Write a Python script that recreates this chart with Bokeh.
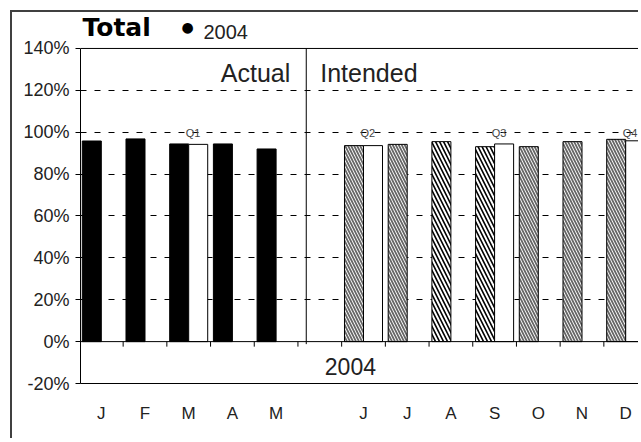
from bokeh.plotting import figure
from bokeh.models import (Range1d, FixedTicker, PrintfTickFormatter, Span, Label)
from bokeh.embed import file_html
from bokeh.resources import INLINE

# ---------------- data ----------------
month_names = ["Jan", "Feb", "Mar", "Apr", "May", "Jun",
               "Jul", "Aug", "Sep", "Oct", "Nov", "Dec"]
month_letters = ["J", "F", "M", "A", "M", "J", "J", "A", "S", "O", "N", "D"]

actual_months = ["Jan", "Feb", "Mar", "Apr", "May"]
actual_values = [95.8, 96.8, 94.4, 94.4, 92.0]

intended_months = ["Jun", "Jul", "Aug", "Sep", "Oct", "Nov", "Dec"]
intended_values = [93.6, 94.2, 95.5, 93.1, 93.1, 95.5, 96.6]
intended_dark_months = ["Aug", "Sep"]

quarter_labels = ["Q1", "Q2", "Q3", "Q4"]
quarter_months = ["Mar", "Jun", "Sep", "Dec"]
quarter_values = [94.2, 93.6, 94.4, 95.9]

y_ticks = [-20, 0, 20, 40, 60, 80, 100, 120, 140]
title_text = "Total"
year_text = "2004"
section_labels = ["Actual", "Intended"]

# ---------------- layout ----------------
W, H = 628, 428
ML, MB = 68, 57
SLOT_PX = 43.7
PX_PER_PCT = 2.094
X0 = -0.476
X1 = X0 + (W - ML) / SLOT_PX
Y0, YTOP = -20, 140
Y1 = Y0 + (H - MB) / PX_PER_PCT
BW = 0.435
SANS = "Liberation Sans"


def slot(m):
    i = month_names.index(m)
    return i if m in actual_months else i + 1   # one empty slot between the two sections


divider_x = slot(actual_months[-1]) + 0.5 + 0.19

p = figure(width=W, height=H, x_range=Range1d(X0, X1), y_range=Range1d(Y0, Y1),
           title=None, output_backend="svg", toolbar_location=None,
           min_border_left=ML, min_border_right=0, min_border_top=0, min_border_bottom=MB,
           background_fill_color="white", border_fill_color="white")
p.outline_line_color = None
p.styles = {"margin-left": "10px", "margin-top": "10px",
            "border-left": "2px solid #404040", "border-top": "2px solid #404040"}

# x axis (bottom line of plot area + month letters)
p.xaxis.ticker = FixedTicker(ticks=[slot(m) for m in month_names])
p.xaxis.major_label_overrides = {slot(m): l for m, l in zip(month_names, month_letters)}
p.xaxis.axis_line_color = "black"
p.xaxis.major_tick_line_color = None
p.xaxis.minor_tick_line_color = None
p.xaxis.major_label_standoff = 14
p.xaxis.major_label_text_font = SANS
p.xaxis.major_label_text_font_size = "17px"
p.xaxis.major_label_text_color = "#222222"

# y axis
p.yaxis.ticker = FixedTicker(ticks=y_ticks)
p.yaxis.bounds = (Y0, YTOP)
p.yaxis.formatter = PrintfTickFormatter(format="%d%%")
p.yaxis.axis_line_color = "black"
p.yaxis.major_tick_out = 5
p.yaxis.major_tick_in = 0
p.yaxis.major_tick_line_color = "black"
p.yaxis.minor_tick_line_color = None
p.yaxis.major_label_standoff = 6
p.yaxis.major_label_text_font = SANS
p.yaxis.major_label_text_font_size = "18px"
p.yaxis.major_label_text_color = "#222222"

# grid
p.xgrid.visible = False
p.ygrid.ticker = FixedTicker(ticks=[t for t in y_ticks if 0 < t < YTOP])
p.ygrid.grid_line_color = "black"
p.ygrid.grid_line_dash = "6 8"
p.ygrid.grid_line_width = 1

# top line of plot area and zero line
p.add_layout(Span(location=YTOP, dimension="width", line_color="black", line_width=1))
p.add_layout(Span(location=0, dimension="width", line_color="black", line_width=1))

# bars: actual
ax = [slot(m) - BW / 2 for m in actual_months]
p.vbar(x=ax, top=actual_values, bottom=0, width=BW, fill_color="black", line_color="black")

# bars: intended (two hatch styles)
light = [(slot(m), v) for m, v in zip(intended_months, intended_values) if m not in intended_dark_months]
dark = [(slot(m), v) for m, v in zip(intended_months, intended_values) if m in intended_dark_months]
p.vbar(x=[s - BW / 2 for s, _ in light], top=[v for _, v in light], bottom=0, width=BW,
       fill_color="white", line_color="black", hatch_pattern="\\", hatch_color="#666666",
       hatch_weight=1.8, hatch_scale=6)
p.vbar(x=[s - BW / 2 for s, _ in dark], top=[v for _, v in dark], bottom=0, width=BW,
       fill_color="white", line_color="black", hatch_pattern="\\", hatch_color="black",
       hatch_weight=1.6, hatch_scale=8)

# bars: quarters (white)
qx = [slot(m) + BW / 2 for m in quarter_months]
p.vbar(x=qx, top=quarter_values, bottom=0, width=BW, fill_color="white", line_color="black")

# quarter labels
for lab, m in zip(quarter_labels, quarter_months):
    p.add_layout(Label(x=slot(m) + 0.1, y=100, text=lab, text_align="center",
                       text_baseline="middle", y_offset=-1, text_font=SANS,
                       text_font_size="11px", text_color="#444444"))

# divider + small ticks at zero line
p.segment(x0=[divider_x], y0=[YTOP], x1=[divider_x], y1=[-1.2], line_color="black", line_width=1)
bounds = [s + 0.5 for s in range(len(month_names))]
p.segment(x0=bounds, y0=[0] * len(bounds), x1=bounds, y1=[-2.4] * len(bounds),
          line_color="black", line_width=1)

# section labels
p.add_layout(Label(x=divider_x, y=120, x_offset=-16, y_offset=17, text=section_labels[0],
                   text_align="right", text_baseline="middle", text_font=SANS,
                   text_font_size="25px", text_color="#222222"))
p.add_layout(Label(x=divider_x, y=120, x_offset=14, y_offset=17, text=section_labels[1],
                   text_align="left", text_baseline="middle", text_font=SANS,
                   text_font_size="25px", text_color="#222222"))

# year label in the band under the zero line
p.add_layout(Label(x=5.7, y=Y0, y_offset=17, text=year_text, text_align="center",
                   text_baseline="middle", text_font=SANS, text_font_size="23px",
                   text_color="#222222"))

# title
p.add_layout(Label(x=X0, y=YTOP, x_offset=2, y_offset=21, text=title_text, text_align="left",
                   text_baseline="middle", text_font="DejaVu Sans", text_font_style="bold",
                   text_font_size="25px", text_color="black"))
p.add_layout(Label(x=X0, y=YTOP, x_offset=107, y_offset=21, text="\u25cf", text_align="center",
                   text_baseline="middle", text_font="DejaVu Sans",
                   text_font_size="14px", text_color="black"))
p.add_layout(Label(x=X0, y=YTOP, x_offset=123, y_offset=16, text=year_text, text_align="left",
                   text_baseline="middle", text_font=SANS,
                   text_font_size="20px", text_color="#222222"))

open("out.html", "w").write(file_html(p, INLINE))
